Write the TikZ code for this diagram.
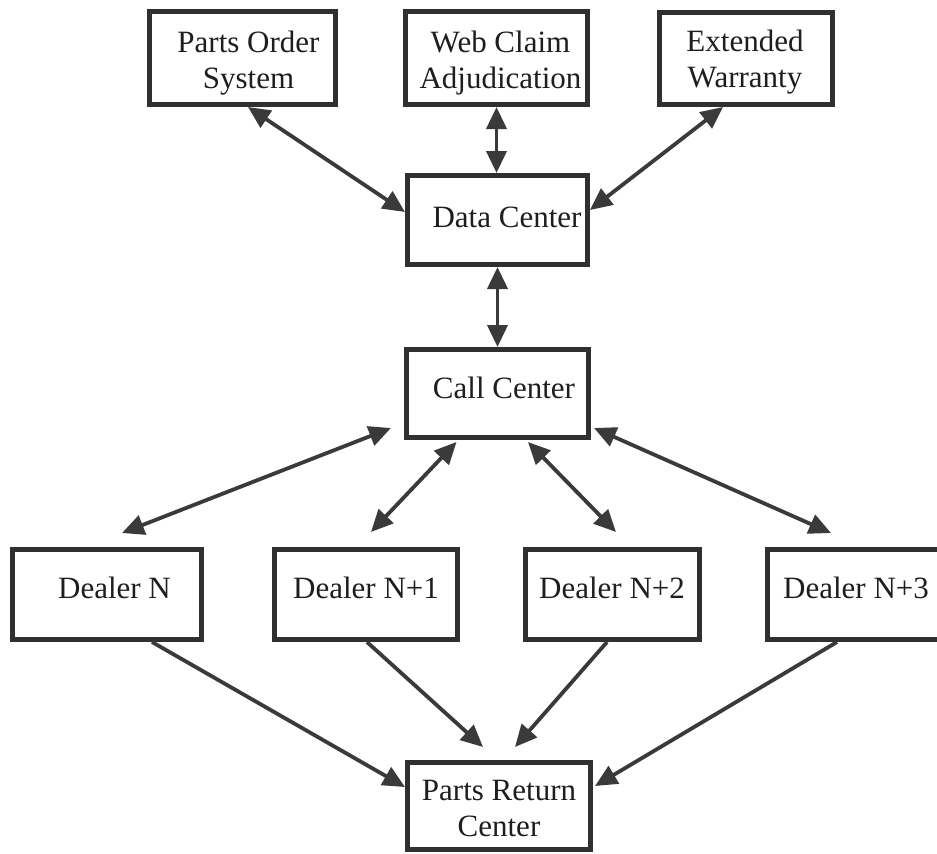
\documentclass[tikz,border=0pt]{standalone}
\usepackage{fontspec}
\setmainfont{LiberationSerif}[Extension=.ttf, UprightFont=*-Regular, BoldFont=*-Bold]
\usetikzlibrary{arrows.meta}
\definecolor{boxline}{HTML}{303030}
\definecolor{arrowgray}{HTML}{3A3A3A}
\definecolor{inkcol}{HTML}{1E1E1E}
\begin{document}
\begin{tikzpicture}[x=1pt,y=-1pt,
  blk/.style={draw=boxline, line width=5pt, fill=white, inner sep=0pt},
  lbl/.style={font=\rmfamily\fontsize{31}{36}\selectfont, text=inkcol, inner sep=0pt, anchor=base},
  link/.style={draw=arrowgray, line width=3.8pt},
  both/.style={link, {Triangle[length=22pt,width=20pt]}-{Triangle[length=22pt,width=20pt]}},
  one/.style={link, -{Triangle[length=22pt,width=20pt]}},
]
\useasboundingbox (0,0) rectangle (937,854);
\fill[white] (0,0) rectangle (937,854);

% top row of systems
\node[blk, minimum width=186pt, minimum height=93pt] (pos) at (242.5,58) {};
\node[blk, minimum width=182pt, minimum height=93pt] (wca) at (496.5,58) {};
\node[blk, minimum width=173pt, minimum height=92pt] (ext) at (746,58.5) {};

% centres
\node[blk, minimum width=180pt, minimum height=89pt] (dc) at (497.5,220) {};
\node[blk, minimum width=182pt, minimum height=88pt] (cc) at (497.5,393.5) {};

% dealers (the last one runs past the right edge)
\node[blk, minimum width=189pt, minimum height=90pt] (dn)  at (107,594.5) {};
\node[blk, minimum width=183pt, minimum height=90pt] (dn1) at (366,594.5) {};
\node[blk, minimum width=174pt, minimum height=90pt] (dn2) at (612.5,594.5) {};
\node[blk, minimum width=177pt, minimum height=90pt] (dn3) at (856,594.5) {};

% parts return
\node[blk, minimum width=183pt, minimum height=87pt] (prc) at (499,806) {};

% labels
\node[lbl] (post) at (248.5,52) {\begin{tabular}[t]{@{}c@{}}Parts Order\\System\end{tabular}};
\node[lbl] (wcat) at (500.5,52) {\begin{tabular}[t]{@{}c@{}}Web Claim\\Adjudication\end{tabular}};
\node[lbl] (extt) at (745,51) {\begin{tabular}[t]{@{}c@{}}Extended\\Warranty\end{tabular}};
\node[lbl] (dct) at (507,227) {Data Center};
\node[lbl] (cct) at (504,398) {Call Center};
\node[lbl] (dnt)  at (114.5,598) {Dealer N};
\node[lbl] (dn1t) at (366,598) {Dealer N+1};
\node[lbl] (dn2t) at (612,598) {Dealer N+2};
\node[lbl] (dn3t) at (856,598) {Dealer N+3};
\node[lbl] (prct) at (499,800) {\begin{tabular}[t]{@{}c@{}}Parts Return\\Center\end{tabular}};

% systems <-> data centre
\draw[both] ([xshift=5.5pt]pos.south) -- ([yshift=8pt]dc.west);
\draw[both] (wca.south) -- (wca.south |- dc.north);
\draw[both] ([xshift=-23pt]ext.south) -- ([yshift=10pt]dc.east);

% data centre <-> call centre
\draw[both] (dc.south) -- (cc.north);

% call centre <-> dealers
\draw[both] ([xshift=-13pt,yshift=12pt]cc.south west) -- ([xshift=15pt,yshift=14pt]dn.north);
\draw[both] ([xshift=-41pt,yshift=-2pt]cc.south) -- ([xshift=5pt,yshift=15pt]dn1.north);
\draw[both] ([xshift=30.5pt,yshift=-2pt]cc.south) -- ([xshift=3.5pt,yshift=15pt]dn2.north);
\draw[both] ([xshift=3pt,yshift=12pt]cc.south east) -- ([xshift=-25pt,yshift=14pt]dn3.north);

% dealers -> parts return
\draw[one] ([xshift=45pt]dn.south) -- ([yshift=19pt]prc.west);
\draw[one] ([xshift=1pt]dn1.south) -- ([xshift=-16pt,yshift=13pt]prc.north);
\draw[one] ([xshift=-5.5pt]dn2.south) -- ([xshift=16pt,yshift=13pt]prc.north);
\draw[one] ([xshift=-19pt]dn3.south) -- ([xshift=2pt,yshift=20pt]prc.east);
\end{tikzpicture}
\end{document}
